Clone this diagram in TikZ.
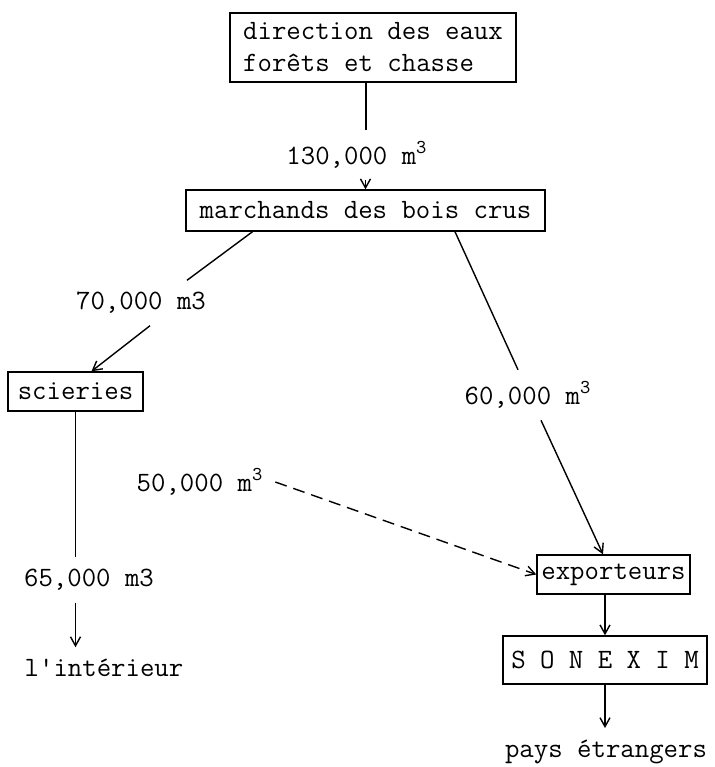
\documentclass[tikz,border=0pt]{standalone}
\usepackage{fontspec}
\usepackage{tikz}
\usetikzlibrary{arrows.meta}
\newcommand{\twfont}{\fontsize{14}{16}\selectfont\ttfamily}
\tikzset{
  cbox/.style={rectangle,draw=black,line width=0.7pt,font=\twfont,inner xsep=1.5pt,inner ysep=2pt},
  qlab/.style={font=\twfont,inner sep=0pt,outer sep=6pt},
  flow/.style={line width=0.7pt,-{Straight Barb[length=4.5pt,width=5pt]}},
  plain/.style={line width=0.7pt},
}

\begin{document}
\begin{tikzpicture}[x=0.5pt,y=-0.5pt]
  \useasboundingbox (0,0) rectangle (715,767);

  % boxes
  \node[cbox,align=left,minimum width=143pt,minimum height=34.5pt] (dir) at (373,47.5)
    {direction des eaux\\forêts et chasse};
  \node[cbox,minimum width=179.5pt,minimum height=20.5pt] (marchands) at (365.5,210.5) {marchands des bois crus};
  \node[cbox,minimum width=67.5pt,minimum height=19.5pt] (scieries) at (75.5,391.5) {scieries};
  \node[cbox,minimum width=76.5pt,minimum height=19.5pt] (exporteurs) at (613.5,574.5) {exporteurs};
  \node[cbox,minimum width=102pt,minimum height=24pt] (sonexim) at (605,660) {S O N E X I M};
  % quantities
  \node[qlab] (q130) at (357,155) {130,000 m\textsuperscript{3}};
  \node[qlab] (q70) at (141,303) {70,000 m3};
  \node[qlab] (q60) at (528,395) {60,000 m\textsuperscript{3}};
  \node[qlab] (q50) at (200,482) {50,000 m\textsuperscript{3}};
  \node[qlab] (q65) at (89,580) {65,000 m3};
  % destinations
  \node[qlab] (interieur) at (104,668) {l'intérieur};
  \node[qlab] (etrangers) at (606,752) {pays étrangers};

  % flows
  \draw[plain] ([xshift=-3.5pt]dir.south) -- ([xshift=-3.5pt]dir.south |- q130.north);
  \draw[flow] (q130.south -| marchands) -- (marchands.north);
  \draw[plain] ([xshift=-56.5pt]marchands.south) -- ([xshift=23pt]q70.north);
  \draw[flow] ([xshift=4.5pt]q70.south) -- ([xshift=8pt]scieries.north);
  \draw[plain] (scieries.south) -- (scieries.south |- q65.north);
  \draw[flow] (q65.south -| scieries) -- (interieur.north -| scieries);
  \draw[plain] ([xshift=44.75pt]marchands.south) -- ([xshift=-5pt]q60.north);
  \draw[flow] ([xshift=6.5pt]q60.south) -- ([xshift=-5.25pt]exporteurs.north);
  \draw[flow,dash pattern=on 6pt off 3.5pt] (q50.east) -- (exporteurs.west);
  \draw[flow] (exporteurs.south -| sonexim) -- (sonexim.north);
  \draw[flow] (sonexim.south) -- (sonexim.south |- etrangers.north);
\end{tikzpicture}
\end{document}
